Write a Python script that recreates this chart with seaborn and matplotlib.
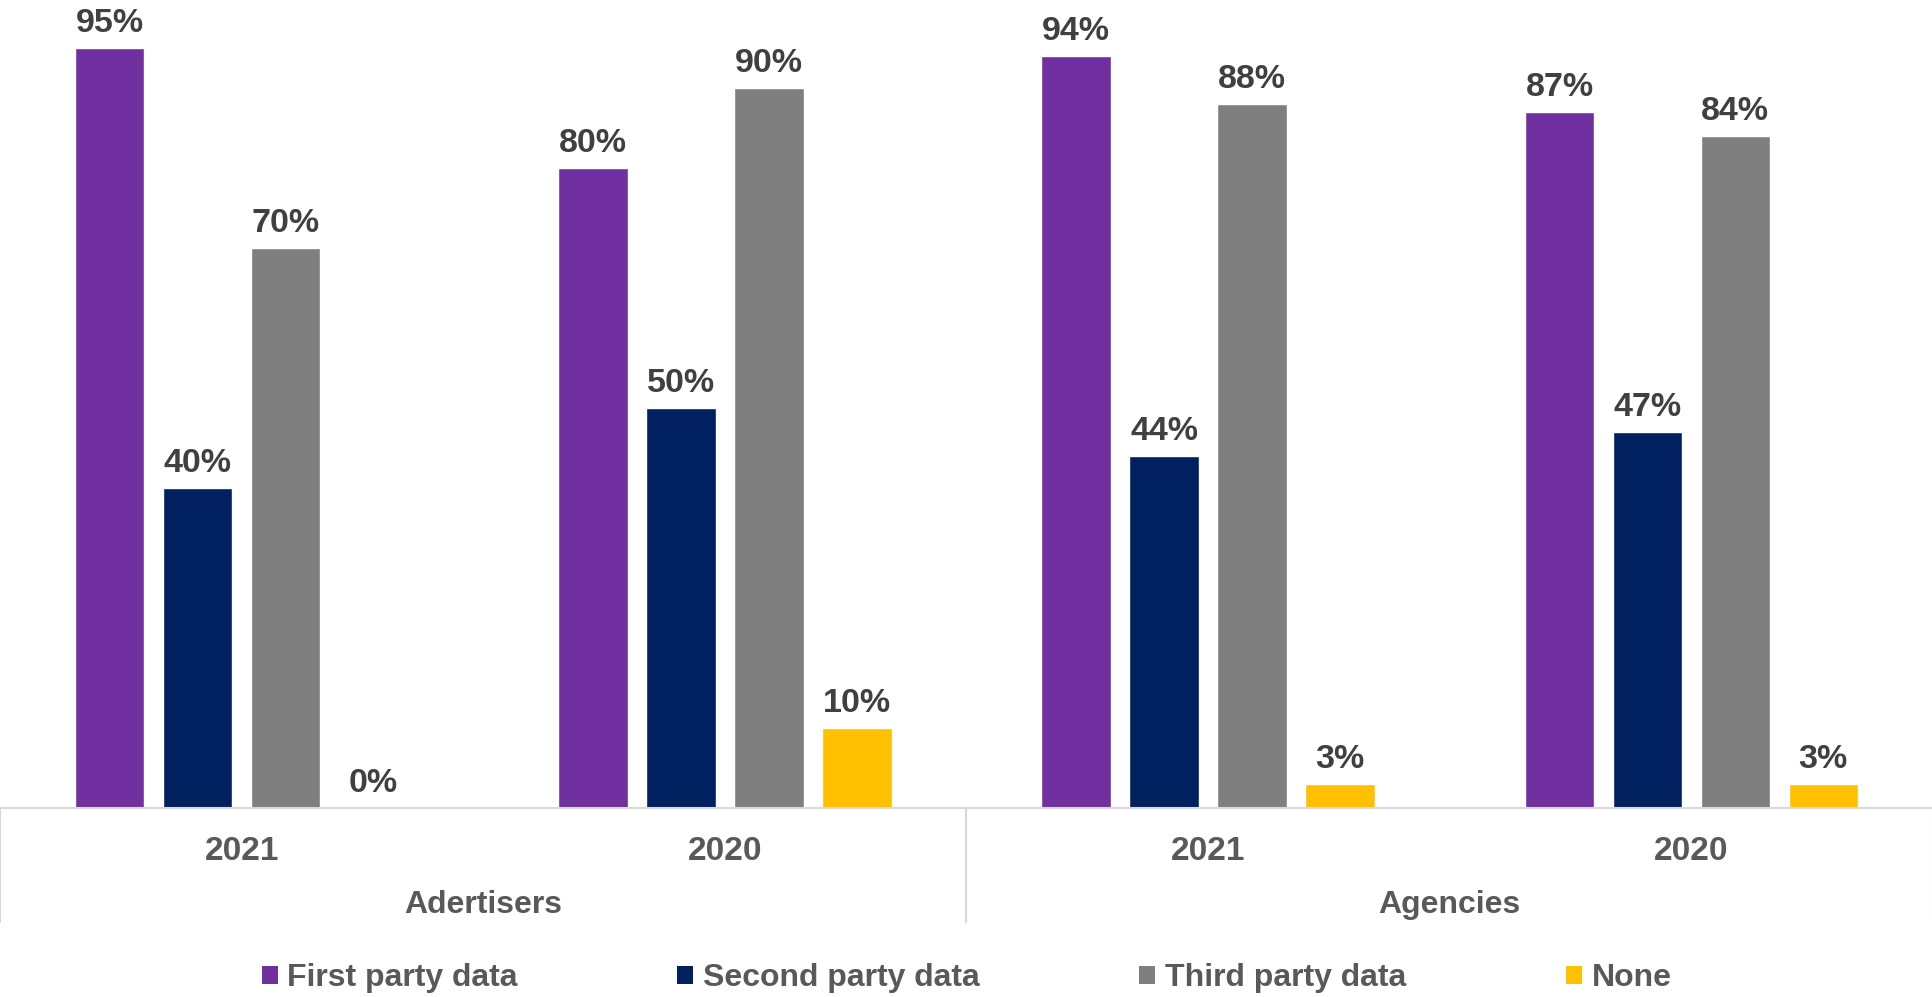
import matplotlib
matplotlib.use("Agg")
import matplotlib.pyplot as plt
from matplotlib.patches import Patch
from matplotlib.lines import Line2D
import seaborn as sns
import pandas as pd

# Survey data: share of respondents using each data type
groups = ["Adertisers", "Agencies"]
years = ["2021", "2020"]
series = ["First party data", "Second party data", "Third party data", "None"]
first_party = [95, 80, 94, 87]
second_party = [40, 50, 44, 47]
third_party = [70, 90, 88, 84]
none_used = [0, 10, 3, 3]

colors = ["#7030A0", "#002060", "#7F7F7F", "#FFC000"]

x_keys = [f"{g} {y}" for g in groups for y in years]
rows = []
for name, vals in zip(series, [first_party, second_party, third_party, none_used]):
    for key, v in zip(x_keys, vals):
        rows.append({"cat": key, "series": name, "value": v})
df = pd.DataFrame(rows)

sns.set_style("white")
plt.rcParams["font.family"] = ["Liberation Sans", "DejaVu Sans"]
plt.rcParams["font.weight"] = "bold"

fig = plt.figure(figsize=(19.33, 9.97), dpi=100)
base_px, top_px = 808, 8
ax = fig.add_axes([0.0, 1 - base_px / 997, 1.0, (base_px - top_px) / 997])
ax_h = base_px - top_px

sns.barplot(data=df, x="cat", y="value", hue="series", order=x_keys,
            hue_order=series, palette=colors, width=0.728, gap=0.21,
            saturation=1, legend=False, ax=ax)

for cont in ax.containers:
    ax.bar_label(cont, fmt="{:.0f}%", padding=6.5, fontsize=24.5,
                 fontweight="bold", color="#404040")

ax.set_xlim(-0.5, 3.5)
ax.set_ylim(0, 100)
ax.set_yticks([])
ax.set_xlabel("")
ax.set_ylabel("")
for s in ["top", "left", "right"]:
    ax.spines[s].set_visible(False)
ax.spines["bottom"].set_color("#D9D9D9")
ax.spines["bottom"].set_linewidth(1.5)

ax.set_xticks(range(len(x_keys)))
ax.set_xticklabels([y for g in groups for y in years], fontsize=24,
                   fontweight="bold", color="#595959")
ax.tick_params(axis="x", length=0, pad=20)

# Group labels and separators below the axis
trans = ax.get_xaxis_transform()
sep_bottom = -(922 - base_px) / ax_h
for xpos in [-0.5, 1.5, 3.5]:
    ax.add_line(Line2D([xpos, xpos], [0, sep_bottom], transform=trans,
                       color="#D9D9D9", lw=1.5, clip_on=False))
group_y = -(905 - base_px) / ax_h
for i, g in enumerate(groups):
    ax.text(2 * i + 0.5, group_y, g, transform=trans, ha="center",
            va="center", fontsize=23, fontweight="bold", color="#595959")

handles = [Patch(facecolor=c, edgecolor="none", label=s)
           for c, s in zip(colors, series)]
fig.legend(handles=handles, loc="center", bbox_to_anchor=(0.5, 1 - 978 / 997),
           ncol=4, frameon=False, handlelength=0.5,
           handleheight=0.5, handletextpad=0.3, columnspacing=5.0,
           labelcolor="#595959", prop={"weight": "bold", "size": 23})

fig.savefig("out.png", dpi=100)
